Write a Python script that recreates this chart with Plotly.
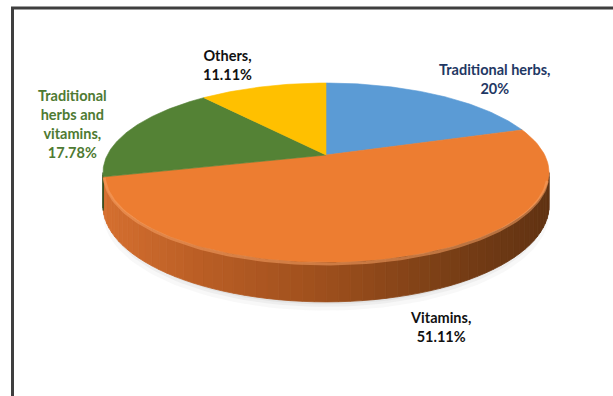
import numpy as np
import plotly.graph_objects as go

# ---- data -------------------------------------------------------------
categories = ["Traditional herbs", "Vitamins", "Traditional herbs and vitamins", "Others"]
shares = [20.0, 51.11, 17.78, 11.11]
label_lines = ["Traditional herbs,", "Vitamins,", "Traditional<br>herbs and<br>vitamins,", "Others,"]
top_colors = ["#5B9BD5", "#ED7D31", "#548235", "#FFC000"]
label_colors = ["#1F3864", "#111111", "#4E7A32", "#111111"]

# ---- 3-D pie projection ----------------------------------------------
W, H = 613, 396
CX, CY = 326.0, 155.0     # projected pie centre
KX, KY = 218.7, 86.1      # horizontal / vertical projection scale
PERSP = 0.196             # perspective strength (depth change front→back)
THICK = 32.0              # disc thickness before perspective


def project(theta_deg, r=1.0, drop=0.0, rx=None):
    t = np.radians(theta_deg)
    u = (rx if rx is not None else r) * np.sin(t)
    v = r * np.cos(t)
    depth = 1.0 + PERSP * v
    x = CX + KX * u / depth
    y = CY - KY * v / depth + drop / depth
    return x, y


# slice angle ranges, clockwise from 12 o'clock
total = sum(shares)
bounds = np.concatenate([[0.0], np.cumsum(shares) / total * 360.0])

# visible part of the rim (between the silhouette extremes)
rim_lo = np.degrees(np.arccos(-PERSP))
rim_hi = 360.0 - rim_lo

fig = go.Figure()

# soft shadow under the disc
for rx, drop, alpha in [(1.0, THICK + 7, 0.05), (0.99, THICK + 4, 0.07), (0.98, THICK + 2, 0.09)]:
    th = np.linspace(0, 360, 181)
    sx, sy = project(th, r=1.0, drop=drop, rx=rx)
    fig.add_trace(go.Scatter(x=sx, y=sy, mode="lines", fill="toself",
                             fillcolor=f"rgba(120,120,120,{alpha})",
                             line=dict(width=0), hoverinfo="skip", showlegend=False))

# side wall colour ramp, left to right
ramp_x = [100, 200, 330, 460, 550]
ramp_orange = [(214, 112, 48), (186, 94, 37), (156, 78, 28), (118, 61, 21), (96, 50, 18)]


def shade(xm, base):
    cols = np.array(ramp_orange, dtype=float)
    rgb = [np.interp(xm, ramp_x, cols[:, i]) for i in range(3)]
    if base != "#ED7D31":
        b = np.array([int(base[i:i + 2], 16) for i in (1, 3, 5)], dtype=float)
        rgb = b * 0.6
    return "rgb(%d,%d,%d)" % tuple(int(round(c)) for c in rgb)


for i in range(len(shares)):
    a0 = max(bounds[i], rim_lo)
    a1 = min(bounds[i + 1], rim_hi)
    if a1 <= a0:
        continue
    n = max(2, int((a1 - a0) / 2.5))
    edges = np.linspace(a0, a1, n + 1)
    for j in range(n):
        th = np.linspace(edges[j], edges[j + 1], 4)
        tx, ty = project(th)
        bx, by = project(th[::-1], drop=THICK)
        px = np.concatenate([tx, bx, tx[:1]])
        py = np.concatenate([ty, by, ty[:1]])
        col = shade(float(np.mean(tx)), top_colors[i])
        fig.add_trace(go.Scatter(x=px, y=py, mode="lines", fill="toself",
                                 fillcolor=col, line=dict(width=0.8, color=col),
                                 hoverinfo="skip", showlegend=False))

# top faces
for i in range(len(shares)):
    th = np.linspace(bounds[i], bounds[i + 1], 90)
    ax, ay = project(th)
    px = np.concatenate([[CX], ax, [CX]])
    py = np.concatenate([[CY], ay, [CY]])
    fig.add_trace(go.Scatter(x=px, y=py, mode="lines", fill="toself",
                             fillcolor=top_colors[i],
                             line=dict(width=0.6, color=top_colors[i]),
                             name=categories[i], hoverinfo="name", showlegend=False))

# rounded-edge highlight along the front rim
th = np.linspace(rim_lo + 4, rim_hi - 2, 120)
hx, hy = project(th, r=0.995, drop=2.0)
fig.add_trace(go.Scatter(x=hx, y=hy, mode="lines",
                         line=dict(width=3, color="rgba(246,160,100,0.55)"),
                         hoverinfo="skip", showlegend=False))

# data labels
label_pos = [(494, 79), (440, 327), (72, 124), (227, 65)]
for i in range(len(shares)):
    txt = f"{label_lines[i]}<br>{shares[i]:g}%"
    fig.add_annotation(x=label_pos[i][0], y=label_pos[i][1], text=f"<b>{txt}</b>",
                       showarrow=False, xanchor="center", yanchor="middle", align="center",
                       font=dict(family="Lato, Carlito, Arial", size=14.5, color=label_colors[i]))

# frame (left and top edges)
fig.add_shape(type="line", x0=12.5, y0=H, x1=12.5, y1=8, line=dict(color="#3f3f3f", width=3))
fig.add_shape(type="line", x0=11, y0=8, x1=W, y1=8, line=dict(color="#3f3f3f", width=3))

fig.update_xaxes(range=[0, W], visible=False, fixedrange=True)
fig.update_yaxes(range=[H, 0], visible=False, fixedrange=True)
fig.update_layout(width=W, height=H, margin=dict(l=0, r=0, t=0, b=0),
                  paper_bgcolor="white", plot_bgcolor="white", showlegend=False)

fig.write_html("out.html")
